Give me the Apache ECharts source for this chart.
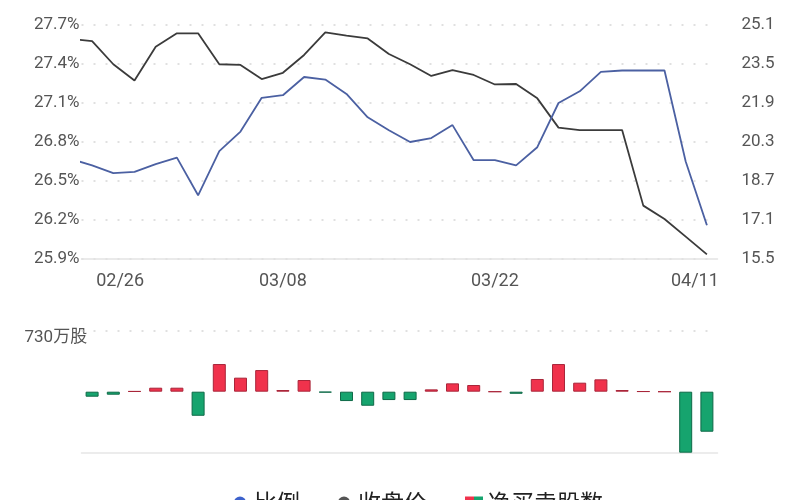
<!DOCTYPE html>
<html>
<head>
<meta charset="utf-8">
<script src="https://cdn.jsdelivr.net/npm/echarts@6/dist/echarts.min.js"></script>
<style>
html,body{margin:0;padding:0;background:#fff;}
#c{width:800px;height:500px;}
</style>
</head>
<body>
<div id="c"></div>
<script>
// dates: first entry (02/23) is the previous day, only partly visible at the left edge
const dates = ['02/23','02/26','02/27','02/28','02/29','03/01','03/04','03/05','03/06','03/07','03/08',
  '03/11','03/12','03/13','03/14','03/15','03/18','03/19','03/20','03/21','03/22',
  '03/25','03/26','03/27','03/28','04/02','04/03','04/08','04/09','04/10','04/11'];
// 比例 (%)
const ratio = [26.67,26.62,26.56,26.57,26.63,26.68,26.39,26.73,26.88,27.14,27.16,
  27.30,27.28,27.17,26.99,26.89,26.80,26.83,26.93,26.66,26.66,
  26.62,26.76,27.10,27.19,27.34,27.35,27.35,27.35,26.65,26.16];
// 收盘价
const close = [24.53,24.44,23.49,22.82,24.21,24.76,24.76,23.49,23.46,22.88,23.14,
  23.87,24.80,24.66,24.55,23.91,23.49,23.01,23.25,23.05,22.66,
  22.68,22.09,20.89,20.79,20.79,20.79,17.69,17.14,16.42,15.69];
// 净买卖股数 (万股)
const netShares = [null,-60,-36,6,48,48,-288,331,168,259,20,
  140,-10,-112,-168,-100,-100,28,100,80,0,
  -25,152,331,108,148,20,4,0,-730,-479];
const labelDates = ['02/26','03/08','03/22','04/11'];
const leftTicks = {min:25.9, max:27.7, step:0.3};
const rightTicks = {min:15.5, max:25.1, step:1.6};
const barMax = 730;

const RED = '#f0324c', RED_B = '#a9263a', GREEN = '#16a46e', GREEN_B = '#0f6a48';
const FONT = 'Roboto, "Noto Sans CJK SC", sans-serif';

const xOf = i => i - 1;
const labelIdx = labelDates.map(d => xOf(dates.indexOf(d)));
const ratioData = ratio.map((v, i) => [xOf(i), v]);
const closeData = close.map((v, i) => [xOf(i), v]);
const barData = netShares.map((v, i) => v === null ? null : {
  value: [xOf(i), v],
  itemStyle: {color: v >= 0 ? RED : GREEN, borderColor: v >= 0 ? RED_B : GREEN_B, borderWidth: 1}
}).filter(d => d !== null);

const chart = echarts.init(document.getElementById('c'), null, {renderer: 'canvas'});
const gridLine = {show: true, lineStyle: {color: '#d6d6d6', type: [2, 10], width: 1.6}};

chart.setOption({
  animation: false,
  textStyle: {fontFamily: FONT},
  grid: [
    {left: 81.5, right: 82.5, top: 25, height: 234},
    {left: 81.5, right: 82.5, top: 330.7, height: 122}
  ],
  legend: {
    left: 229, top: 486,
    itemGap: 38, itemWidth: 18, itemHeight: 12,
    textStyle: {fontSize: 23, color: '#222', fontFamily: '"Noto Sans CJK SC", sans-serif'},
    data: [
      {name: '比例', icon: 'circle', itemStyle: {color: '#3d62cc'}},
      {name: '收盘价', icon: 'circle', itemStyle: {color: '#555'}},
      {name: '净买卖股数', icon: 'rect', itemStyle: {color: new echarts.graphic.LinearGradient(0, 0, 1, 0, [
        {offset: 0, color: RED}, {offset: 0.5, color: RED}, {offset: 0.5, color: GREEN}, {offset: 1, color: GREEN}])}}
    ]
  },
  xAxis: [
    {type: 'value', gridIndex: 0, min: -0.5, max: 29.5,
     axisLine: {show: true, lineStyle: {color: '#e3e3e3', width: 1.5}},
     axisTick: {show: false}, splitLine: {show: false},
     axisLabel: {
       customValues: labelIdx, margin: 14, fontSize: 18, color: '#555',
       formatter: v => {
         const d = dates[v + 1];
         if (v === labelIdx[0]) return '{l|' + d + '}';
         if (v === labelIdx[labelIdx.length - 1]) return '{r|' + d + '}';
         return d;
       },
       rich: {
         l: {fontSize: 18, color: '#555', padding: [0, 0, 0, 56]},
         r: {fontSize: 18, color: '#555', padding: [0, 24, 0, 0]}
       }
     }},
    {type: 'value', gridIndex: 1, min: -0.5, max: 29.5,
     axisLine: {show: true, onZero: false, lineStyle: {color: '#e6e6e6', width: 1.5}},
     axisTick: {show: false}, axisLabel: {show: false}, splitLine: {show: false}}
  ],
  yAxis: [
    {type: 'value', gridIndex: 0, min: leftTicks.min, max: leftTicks.max, interval: leftTicks.step,
     axisLine: {show: false}, axisTick: {show: false},
     axisLabel: {fontSize: 17, color: '#555', margin: 2, formatter: v => v.toFixed(1) + '%'},
     splitLine: gridLine},
    {type: 'value', gridIndex: 0, position: 'right', min: rightTicks.min, max: rightTicks.max, interval: rightTicks.step,
     axisLine: {show: false}, axisTick: {show: false},
     axisLabel: {fontSize: 17, color: '#555', margin: 24, formatter: v => v.toFixed(1)},
     splitLine: {show: false}},
    {type: 'value', gridIndex: 1, min: -barMax, max: barMax, interval: barMax,
     axisLine: {show: false}, axisTick: {show: false}, splitLine: {show: false},
     axisLabel: {fontSize: 17, color: '#555', align: 'left', margin: 57, verticalAlign: 'top',
       backgroundColor: '#fff', padding: [-1, 10, 0, 0],
       formatter: v => v === barMax ? barMax + '万股' : ''}}
  ],
  series: [
    {name: '比例', type: 'line', xAxisIndex: 0, yAxisIndex: 0, data: ratioData,
     showSymbol: false, symbol: 'none', clip: true,
     lineStyle: {color: '#4b60a2', width: 1.8}, itemStyle: {color: '#3d62cc'}, z: 3},
    {name: '收盘价', type: 'line', xAxisIndex: 0, yAxisIndex: 1, data: closeData,
     showSymbol: false, symbol: 'none', clip: true,
     lineStyle: {color: '#3b3b3b', width: 1.8}, itemStyle: {color: '#555'}, z: 2},
    {name: '净买卖股数', type: 'bar', xAxisIndex: 1, yAxisIndex: 2, data: barData, barWidth: 13,
     itemStyle: {color: RED},
     markLine: {silent: true, symbol: 'none', label: {show: false},
       lineStyle: {color: '#d6d6d6', type: [2, 10], width: 1.6},
       data: [{yAxis: barMax}]}, z: 1}
  ]
});
</script>
</body>
</html>
